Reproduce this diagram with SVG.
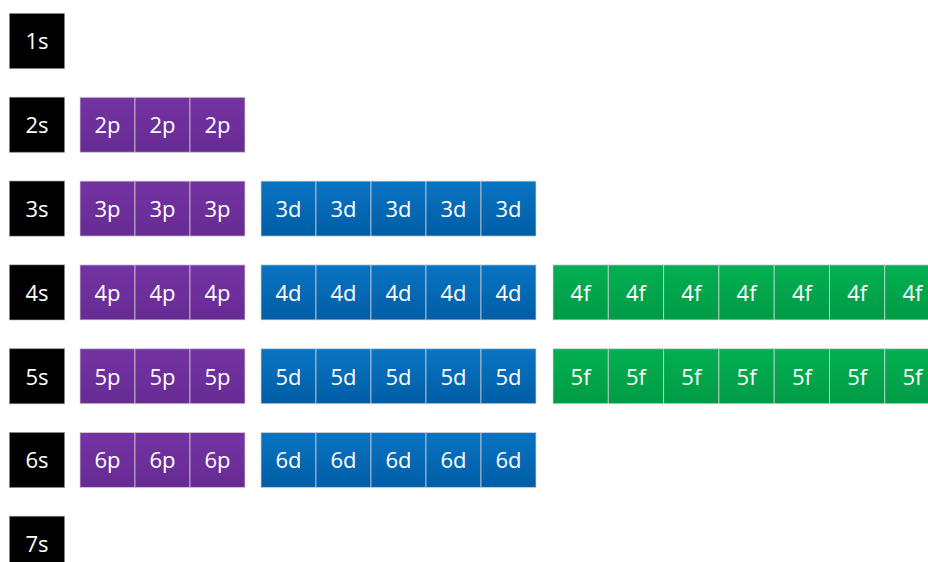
<svg xmlns="http://www.w3.org/2000/svg" width="928" height="562" viewBox="0 0 928 562">
<defs>
<linearGradient id="gp" x1="0" y1="0" x2="0" y2="1"><stop offset="0" stop-color="#7433A3"/><stop offset="1" stop-color="#672B93"/></linearGradient>
<linearGradient id="gd" x1="0" y1="0" x2="0" y2="1"><stop offset="0" stop-color="#0A74C2"/><stop offset="1" stop-color="#005DA6"/></linearGradient>
<linearGradient id="gf" x1="0" y1="0" x2="0" y2="1"><stop offset="0" stop-color="#03B052"/><stop offset="1" stop-color="#009B45"/></linearGradient>
</defs>
<style>
rect{stroke:#d8d8d8;stroke-opacity:0.7;stroke-width:1}
.s rect{fill:#000;stroke:#888;stroke-opacity:0.5}
.p rect{fill:url(#gp)}
.d rect{fill:url(#gd)}
.f rect{fill:url(#gf)}
text{fill:#fff;font-family:"Open Sans","Liberation Sans",sans-serif;font-size:22px;text-anchor:middle}
</style>
<rect x="0" y="0" width="928" height="562" fill="#fff" style="stroke:none"/>
<g id="connectors"></g>
<!-- s orbitals -->
<g id="n1s" class="s"><rect x="9.5" y="13.5" width="55" height="55"/><text x="37" y="49.3">1s</text></g>
<g id="n2s" class="s"><rect x="9.5" y="97.3" width="55" height="55"/><text x="37" y="133.1">2s</text></g>
<g id="n3s" class="s"><rect x="9.5" y="181.1" width="55" height="55"/><text x="37" y="216.9">3s</text></g>
<g id="n4s" class="s"><rect x="9.5" y="264.9" width="55" height="55"/><text x="37" y="300.7">4s</text></g>
<g id="n5s" class="s"><rect x="9.5" y="348.7" width="55" height="55"/><text x="37" y="384.5">5s</text></g>
<g id="n6s" class="s"><rect x="9.5" y="432.5" width="55" height="55"/><text x="37" y="468.3">6s</text></g>
<g id="n7s" class="s"><rect x="9.5" y="516.3" width="55" height="55"/><text x="37" y="552.1">7s</text></g>
<!-- p orbitals -->
<g id="n2p-1" class="p"><rect x="80" y="97.3" width="55" height="55"/><text x="107.5" y="133.1">2p</text></g>
<g id="n2p-2" class="p"><rect x="135" y="97.3" width="55" height="55"/><text x="162.5" y="133.1">2p</text></g>
<g id="n2p-3" class="p"><rect x="190" y="97.3" width="55" height="55"/><text x="217.5" y="133.1">2p</text></g>
<g id="n3p-1" class="p"><rect x="80" y="181.1" width="55" height="55"/><text x="107.5" y="216.9">3p</text></g>
<g id="n3p-2" class="p"><rect x="135" y="181.1" width="55" height="55"/><text x="162.5" y="216.9">3p</text></g>
<g id="n3p-3" class="p"><rect x="190" y="181.1" width="55" height="55"/><text x="217.5" y="216.9">3p</text></g>
<g id="n4p-1" class="p"><rect x="80" y="264.9" width="55" height="55"/><text x="107.5" y="300.7">4p</text></g>
<g id="n4p-2" class="p"><rect x="135" y="264.9" width="55" height="55"/><text x="162.5" y="300.7">4p</text></g>
<g id="n4p-3" class="p"><rect x="190" y="264.9" width="55" height="55"/><text x="217.5" y="300.7">4p</text></g>
<g id="n5p-1" class="p"><rect x="80" y="348.7" width="55" height="55"/><text x="107.5" y="384.5">5p</text></g>
<g id="n5p-2" class="p"><rect x="135" y="348.7" width="55" height="55"/><text x="162.5" y="384.5">5p</text></g>
<g id="n5p-3" class="p"><rect x="190" y="348.7" width="55" height="55"/><text x="217.5" y="384.5">5p</text></g>
<g id="n6p-1" class="p"><rect x="80" y="432.5" width="55" height="55"/><text x="107.5" y="468.3">6p</text></g>
<g id="n6p-2" class="p"><rect x="135" y="432.5" width="55" height="55"/><text x="162.5" y="468.3">6p</text></g>
<g id="n6p-3" class="p"><rect x="190" y="432.5" width="55" height="55"/><text x="217.5" y="468.3">6p</text></g>
<!-- d orbitals -->
<g id="n3d-1" class="d"><rect x="261" y="181.1" width="55" height="55"/><text x="288.5" y="216.9">3d</text></g>
<g id="n3d-2" class="d"><rect x="316" y="181.1" width="55" height="55"/><text x="343.5" y="216.9">3d</text></g>
<g id="n3d-3" class="d"><rect x="371" y="181.1" width="55" height="55"/><text x="398.5" y="216.9">3d</text></g>
<g id="n3d-4" class="d"><rect x="426" y="181.1" width="55" height="55"/><text x="453.5" y="216.9">3d</text></g>
<g id="n3d-5" class="d"><rect x="481" y="181.1" width="55" height="55"/><text x="508.5" y="216.9">3d</text></g>
<g id="n4d-1" class="d"><rect x="261" y="264.9" width="55" height="55"/><text x="288.5" y="300.7">4d</text></g>
<g id="n4d-2" class="d"><rect x="316" y="264.9" width="55" height="55"/><text x="343.5" y="300.7">4d</text></g>
<g id="n4d-3" class="d"><rect x="371" y="264.9" width="55" height="55"/><text x="398.5" y="300.7">4d</text></g>
<g id="n4d-4" class="d"><rect x="426" y="264.9" width="55" height="55"/><text x="453.5" y="300.7">4d</text></g>
<g id="n4d-5" class="d"><rect x="481" y="264.9" width="55" height="55"/><text x="508.5" y="300.7">4d</text></g>
<g id="n5d-1" class="d"><rect x="261" y="348.7" width="55" height="55"/><text x="288.5" y="384.5">5d</text></g>
<g id="n5d-2" class="d"><rect x="316" y="348.7" width="55" height="55"/><text x="343.5" y="384.5">5d</text></g>
<g id="n5d-3" class="d"><rect x="371" y="348.7" width="55" height="55"/><text x="398.5" y="384.5">5d</text></g>
<g id="n5d-4" class="d"><rect x="426" y="348.7" width="55" height="55"/><text x="453.5" y="384.5">5d</text></g>
<g id="n5d-5" class="d"><rect x="481" y="348.7" width="55" height="55"/><text x="508.5" y="384.5">5d</text></g>
<g id="n6d-1" class="d"><rect x="261" y="432.5" width="55" height="55"/><text x="288.5" y="468.3">6d</text></g>
<g id="n6d-2" class="d"><rect x="316" y="432.5" width="55" height="55"/><text x="343.5" y="468.3">6d</text></g>
<g id="n6d-3" class="d"><rect x="371" y="432.5" width="55" height="55"/><text x="398.5" y="468.3">6d</text></g>
<g id="n6d-4" class="d"><rect x="426" y="432.5" width="55" height="55"/><text x="453.5" y="468.3">6d</text></g>
<g id="n6d-5" class="d"><rect x="481" y="432.5" width="55" height="55"/><text x="508.5" y="468.3">6d</text></g>
<!-- f orbitals -->
<g id="n4f-1" class="f"><rect x="553" y="264.9" width="55.3" height="55"/><text x="580.6" y="300.7">4f</text></g>
<g id="n4f-2" class="f"><rect x="608.3" y="264.9" width="55.3" height="55"/><text x="636" y="300.7">4f</text></g>
<g id="n4f-3" class="f"><rect x="663.6" y="264.9" width="55.3" height="55"/><text x="691.3" y="300.7">4f</text></g>
<g id="n4f-4" class="f"><rect x="718.9" y="264.9" width="55.3" height="55"/><text x="746.6" y="300.7">4f</text></g>
<g id="n4f-5" class="f"><rect x="774.2" y="264.9" width="55.3" height="55"/><text x="801.9" y="300.7">4f</text></g>
<g id="n4f-6" class="f"><rect x="829.5" y="264.9" width="55.3" height="55"/><text x="857.2" y="300.7">4f</text></g>
<g id="n4f-7" class="f"><rect x="884.8" y="264.9" width="55.3" height="55"/><text x="912.4" y="300.7">4f</text></g>
<g id="n5f-1" class="f"><rect x="553" y="348.7" width="55.3" height="55"/><text x="580.6" y="384.5">5f</text></g>
<g id="n5f-2" class="f"><rect x="608.3" y="348.7" width="55.3" height="55"/><text x="636" y="384.5">5f</text></g>
<g id="n5f-3" class="f"><rect x="663.6" y="348.7" width="55.3" height="55"/><text x="691.3" y="384.5">5f</text></g>
<g id="n5f-4" class="f"><rect x="718.9" y="348.7" width="55.3" height="55"/><text x="746.6" y="384.5">5f</text></g>
<g id="n5f-5" class="f"><rect x="774.2" y="348.7" width="55.3" height="55"/><text x="801.9" y="384.5">5f</text></g>
<g id="n5f-6" class="f"><rect x="829.5" y="348.7" width="55.3" height="55"/><text x="857.2" y="384.5">5f</text></g>
<g id="n5f-7" class="f"><rect x="884.8" y="348.7" width="55.3" height="55"/><text x="912.4" y="384.5">5f</text></g>
</svg>
